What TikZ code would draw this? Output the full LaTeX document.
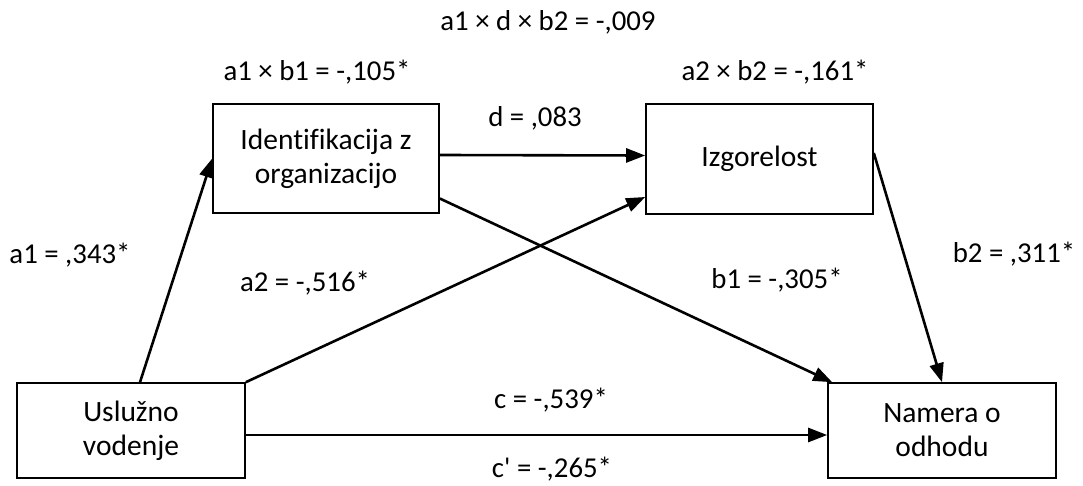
\documentclass[tikz,border=0pt]{standalone}
\usepackage{fontspec}
\setmainfont{Carlito}[Ligatures={TeXOff,NoCommon}]
\usetikzlibrary{arrows.meta}
\begin{document}
\begin{tikzpicture}[x=1pt,y=-1pt,
  box/.style={draw=black, line width=1.6pt, inner sep=0pt, align=center,
    font=\fontsize{29.5}{34}\selectfont},
  lbl/.style={inner sep=0pt, anchor=base, font=\fontsize{28.8}{34}\selectfont},
  arr/.style={line width=2.6pt, -{Triangle[length=19pt,width=14pt]}}]
\useasboundingbox (0,0) rectangle (1083,486);
% boxes
\node[box, minimum width=228pt, minimum height=95pt] (u) at (131,430.5) {Uslužno\\vodenje};
\node[box, minimum width=226pt, minimum height=109pt] (i) at (326,158.5) {Identifikacija z\\organizacijo};
\node[box, minimum width=227pt, minimum height=110pt] (z) at (759.5,159) {Izgorelost};
\node[box, minimum width=228pt, minimum height=95pt] (n) at (942,430.5) {Namera o\\odhodu};
% connectors
\draw[arr] ([xshift=9pt]u.north) -- (i.west);
\draw[arr] (u.north east) -- ([yshift=-38pt]z.west);
\draw[arr] ([yshift=-4.5pt]u.east) -- ([yshift=-4.5pt]n.west);
\draw[arr] ([yshift=3.5pt]i.east) -- ([yshift=3.5pt]z.west);
\draw[arr] ([yshift=-40pt]i.east) -- ([xshift=5pt]n.north west);
\draw[arr] ([yshift=6pt]z.east) -- (n.north);
% labels
\node[lbl] (labc) at (548,31) {a1 × d × b2 = -,009};
\node[lbl] (lab1) at (317,81) {a1 × b1 = -,105*};
\node[lbl] (lab2) at (775,81) {a2 × b2 = -,161*};
\node[lbl] (ld) at (535,127) {d = ,083};
\node[lbl] (la1) at (70,263) {a1 = ,343*};
\node[lbl] (la2) at (305,291) {a2 = -,516*};
\node[lbl] (lb1) at (777,288) {b1 = -,305*};
\node[lbl] (lb2) at (1014,262) {b2 = ,311*};
\node[lbl] (lc) at (551,408) {c = -,539*};
\node[lbl] (lcp) at (552,477) {c' = -,265*};
\end{tikzpicture}
\end{document}
